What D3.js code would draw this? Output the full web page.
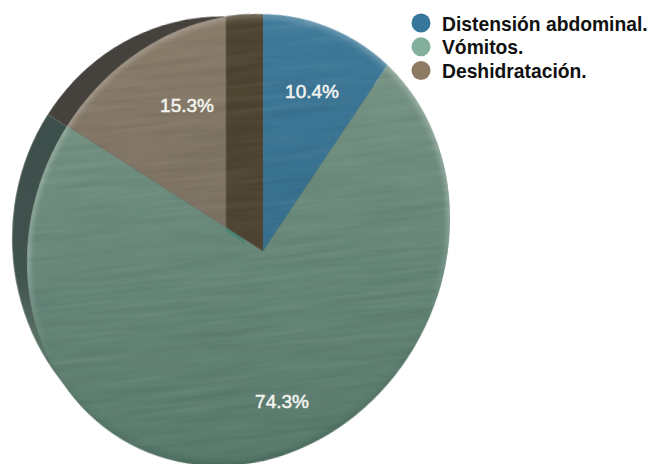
<!DOCTYPE html>
<html lang="es">
<head>
<meta charset="utf-8">
<script src="https://cdn.jsdelivr.net/npm/d3@7/dist/d3.min.js"></script>
<style>
  html, body { margin: 0; padding: 0; background: #fff; }
  svg { display: block; }
  text { font-family: "Liberation Sans", Arial, sans-serif; }
</style>
</head>
<body>
<script>
// Síntomas y su porcentaje
const categories = ["Distensión abdominal.", "Vómitos.", "Deshidratación."];
const values = [10.4, 74.3, 15.3];
const swatchColors = ["#38769b", "#82b09c", "#8d7b63"];

const width = 652, height = 464;
const discRadius = 225;

const svg = d3.select("body").append("svg")
  .attr("width", width).attr("height", height);
const defs = svg.append("defs");

// Vertical shading per slice, expressed in the apex-centred frame
function shade(id, stops) {
  const g = defs.append("linearGradient").attr("id", id)
    .attr("gradientUnits", "userSpaceOnUse")
    .attr("x1", 0).attr("y1", -241).attr("x2", 0).attr("y2", 213);
  stops.forEach(([o, c]) => g.append("stop").attr("offset", o).attr("stop-color", c));
}
shade("face-0", [[0, "#3f7b9b"], [0.5, "#376f8e"]]);
shade("face-1", [[0, "#7f9a89"], [0.3, "#6f8e7f"], [0.6, "#648577"], [1, "#587a6b"]]);
shade("face-2", [[0, "#8a7c6a"], [0.5, "#7b7062"]]);
shade("wall-1", [[0, "#3c4e4a"], [0.55, "#40524e"], [0.72, "#5a7568"]]);
shade("rim", [[0, "#ffffff"], [0.5, "#ffffff"], [0.72, "#5f7f70"], [1, "#16302a"]]);

defs.append("filter").attr("id", "soft").attr("x", "-10%").attr("y", "-10%")
  .attr("width", "120%").attr("height", "120%")
  .append("feGaussianBlur").attr("stdDeviation", 3);
defs.append("filter").attr("id", "edge").append("feGaussianBlur").attr("stdDeviation", 0.6);

// Brushed streaks laid over the disc: one light layer, one dark layer
function streakFilter(id, seed, channel) {
  const f = defs.append("filter").attr("id", id)
    .attr("filterUnits", "userSpaceOnUse")
    .attr("x", -400).attr("y", -360).attr("width", 800).attr("height", 700);
  f.append("feTurbulence").attr("type", "fractalNoise")
    .attr("baseFrequency", "0.01 0.16").attr("numOctaves", 3).attr("seed", seed);
  f.append("feColorMatrix").attr("type", "matrix")
    .attr("values", `0 0 0 0 ${channel}  0 0 0 0 ${channel}  0 0 0 0 ${channel}  1.8 0 0 0 -0.8`);
}
streakFilter("streaks-light", 11, 1);
streakFilter("streaks-dark", 23, 0);

// The disc leans slightly, so slices go through a sheared frame centred on the apex
const frame = svg.append("g")
  .attr("transform", "matrix(0.94,-0.096,0,1,263,251)")
  .attr("filter", "url(#edge)");

defs.append("clipPath").attr("id", "disc").append("circle")
  .attr("cx", -26).attr("cy", -13.5).attr("r", discRadius);
defs.append("clipPath").attr("id", "wall-disc").append("ellipse")
  .attr("rx", 234).attr("ry", 212)
  .attr("transform", "translate(-43.6,-16.4) rotate(45)");
defs.append("clipPath").attr("id", "band").append("rect")
  .attr("x", -39.4).attr("y", -400).attr("width", 39.4).attr("height", 400);
defs.append("clipPath").attr("id", "band-left").append("rect")
  .attr("x", -39.4).attr("y", -400).attr("width", 20).attr("height", 420);

const slices = d3.pie().sort(null)(values);
const wedge = d3.arc().innerRadius(0).outerRadius(420);

// Side wall peeking out behind the upper-left of the disc
const wallFill = ["#2f5a70", "url(#wall-1)", "#45433c"];
const wall = frame.append("g").attr("clip-path", "url(#wall-disc)")
  .append("g").attr("transform", "translate(-17,-10.6)");
wall.selectAll("path").data(slices).join("path")
  .attr("d", wedge).attr("fill", (d, i) => wallFill[i]);

// Top face
const face = frame.append("g").attr("clip-path", "url(#disc)");
face.selectAll("path").data(slices).join("path")
  .attr("d", wedge).attr("fill", (d, i) => `url(#face-${i})`);

// Dark band along the closing edge of the last slice
face.append("g").attr("clip-path", "url(#band-left)")
  .append("path").attr("transform", "translate(0,4)")
  .attr("d", wedge(slices[2])).attr("fill", "#4f8577");
face.append("g").attr("clip-path", "url(#band)")
  .append("path").attr("d", wedge(slices[2])).attr("fill", "#4f4432");

// Streak texture and bevelled rim
["streaks-light", "streaks-dark"].forEach(id => {
  face.append("rect").attr("x", -340).attr("y", -300).attr("width", 680).attr("height", 560)
    .attr("filter", `url(#${id})`).attr("opacity", 0.07);
});
face.append("circle").attr("cx", -26).attr("cy", -13.5).attr("r", discRadius)
  .attr("fill", "none").attr("stroke", "url(#rim)").attr("stroke-width", 6)
  .attr("stroke-opacity", 0.3).attr("filter", "url(#soft)");

// Percentage labels
const labelSpots = [[312, 91], [282, 401], [187, 105]];
svg.append("g").selectAll("text").data(values).join("text")
  .attr("x", (d, i) => labelSpots[i][0])
  .attr("y", (d, i) => labelSpots[i][1])
  .attr("dy", "0.36em")
  .attr("text-anchor", "middle")
  .attr("font-size", 19).attr("font-weight", 400)
  .attr("fill", "#f4f4f0").attr("stroke", "#f4f4f0").attr("stroke-width", 0.5)
  .text(d => `${d}%`);

// Legend
const legendY = d3.scalePoint().domain(categories).range([23, 70.5]);
const legend = svg.append("g").selectAll("g").data(categories).join("g")
  .attr("transform", d => `translate(0,${legendY(d)})`);
legend.append("circle").attr("cx", 421).attr("r", 9.5)
  .attr("fill", (d, i) => swatchColors[i]);
legend.append("text").attr("x", 442).attr("y", 7.5)
  .attr("font-size", 19.3).attr("font-weight", 700).attr("fill", "#111")
  .text(d => d);
</script>
</body>
</html>
